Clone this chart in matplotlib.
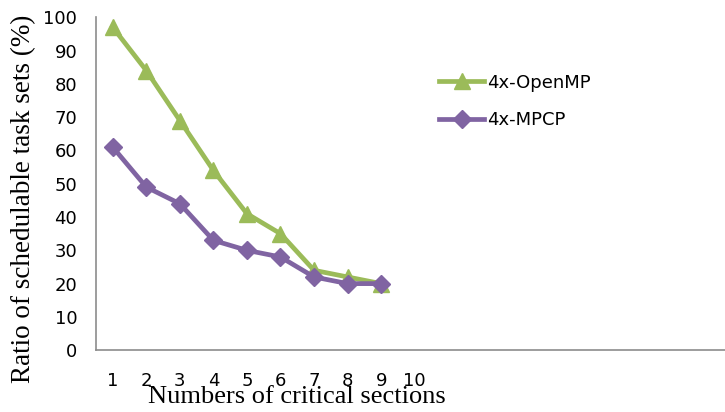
import matplotlib
matplotlib.use('Agg')
import matplotlib.pyplot as plt

sections = [1, 2, 3, 4, 5, 6, 7, 8, 9]
openmp = [97, 84, 69, 54, 41, 35, 24, 22, 20]
mpcp = [61, 49, 44, 33, 30, 28, 22, 20, 20]
xticks = [1, 2, 3, 4, 5, 6, 7, 8, 9, 10]
yticks = [0, 10, 20, 30, 40, 50, 60, 70, 80, 90, 100]

green = '#9BBB59'
purple = '#8064A2'

fig = plt.figure(figsize=(7.25, 4.12), dpi=100)
ax = fig.add_axes([0.1324, 0.150, 0.8676, 0.808])

ax.plot(sections, openmp, color=green, lw=3.4, marker='^', ms=12,
        label='4x-OpenMP')
ax.plot(sections, mpcp, color=purple, lw=3.4, marker='D', ms=9,
        label='4x-MPCP')

ax.set_xlim(0.5, 19.25)
ax.set_ylim(0, 100)
ax.set_xticks(xticks)
ax.set_yticks(yticks)
ax.tick_params(length=0, labelsize=13)
ax.tick_params(axis='x', pad=16)
ax.tick_params(axis='y', pad=13.5)

for s in ['top', 'right']:
    ax.spines[s].set_visible(False)
for s in ['left', 'bottom']:
    ax.spines[s].set_color('#8c8c8c')
    ax.spines[s].set_linewidth(1.2)

ax.set_xlabel('Numbers of critical sections', family='Liberation Serif',
              fontsize=19)
ax.xaxis.set_label_coords(0.32, -0.108)
ax.set_ylabel('Ratio of schedulable task sets (%)', family='Liberation Serif',
              fontsize=19.5, va='center')
ax.yaxis.set_label_coords(-0.115, 0.456)

leg = ax.legend(loc='upper left', bbox_to_anchor=(0.52, 0.88), frameon=False,
                prop={'size': 13}, handlelength=2.5,
                handletextpad=0.15, labelspacing=1.1)

fig.savefig('out.png', dpi=100)
